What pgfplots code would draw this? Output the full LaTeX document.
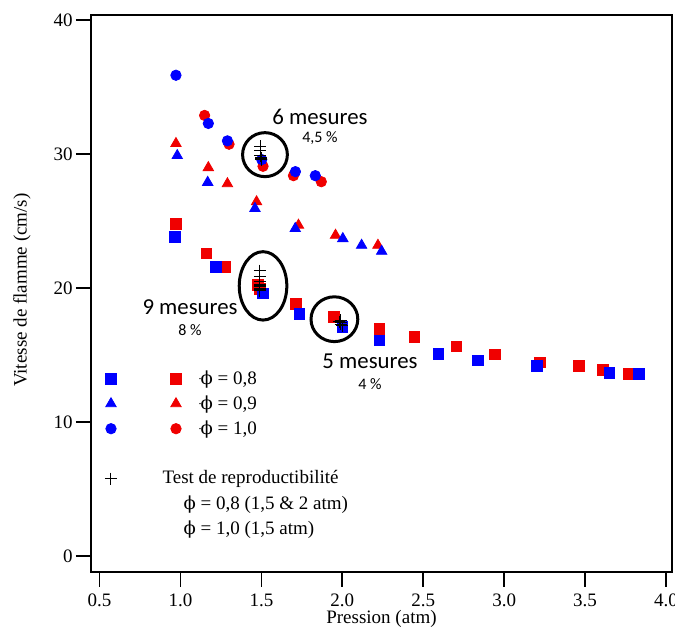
\documentclass[border=0pt]{standalone}
\usepackage{pgfplots}
\pgfplotsset{compat=1.18}
\usepackage{fontspec}
\setmainfont{Liberation Serif}
\newfontfamily\calibri{Carlito}
\newfontfamily\dejaserif{DejaVu Serif}
\newcommand{\phis}{{\dejaserif\fontsize{9}{11}\selectfont ϕ}}
\definecolor{mblue}{RGB}{0,0,255}
\definecolor{mred}{RGB}{240,0,0}
\begin{document}
\begin{tikzpicture}
\begin{axis}[
  scale only axis, width=290.5pt, height=278.5pt,
  xmin=0.447, xmax=4.037, ymin=-1.2, ymax=40.4,
  axis line style={line width=0.9pt},
  xtick={0.5,1.0,1.5,2.0,2.5,3.0,3.5,4.0}, ytick={0,10,20,30,40},
  xtick pos=bottom, ytick pos=left,
  tick align=outside, major tick length=7.5pt,
  tick style={line width=0.9pt, black},
  minor tick num=0,
  font=\fontsize{9.5}{11.4}\selectfont,
  /pgf/number format/assume math mode=true,
  xticklabel style={/pgf/number format/.cd, fixed, fixed zerofill, precision=1},
  yticklabel style={inner sep=1.5pt},
  xlabel={Pression (atm)},
  ylabel={Vitesse de flamme (cm/s)},
  xlabel style={at={(axis description cs:0.5,-0.084)}, anchor=center},
  ylabel style={at={(axis description cs:-0.119,0.506)}, anchor=center, rotate=0},
  legend cell align=left,
  legend style={at={(axis cs:0.531,14.2)}, anchor=north west, draw=none, fill=none,
    inner sep=0pt, row sep=0pt, nodes={inner sep=0pt, minimum height=12.5pt},
    font=\fontsize{9.5}{11.4}\selectfont},
  clip=false,
]
% red squares (phi=0.8)
\addplot[forget plot, only marks, mark=square*, mark size=2.7pt, mred, mark options={draw=mred, fill=mred}] coordinates {
 (0.972,24.8) (1.16,22.6) (1.277,21.6) (1.48,20.25) (1.49,19.95) (1.715,18.8) (1.946,17.85)
 (2.229,16.95) (2.445,16.35) (2.705,15.65) (2.945,15.05) (3.221,14.45) (3.463,14.2) (3.611,13.9) (3.773,13.6)};
% red triangles (phi=0.9)
\addplot[forget plot, only marks, mark=triangle*, mark size=3pt, mred, mark options={draw=mred, fill=mred}] coordinates {
 (0.972,30.8) (1.172,29.0) (1.29,27.8) (1.47,26.45) (1.729,24.7) (1.958,23.95) (2.22,23.2)};
% red circles (phi=1.0)
\addplot[forget plot, only marks, mark=*, mark size=2.6pt, mred, mark options={draw=mred, fill=mred}] coordinates {
 (1.149,32.9) (1.30,30.75) (1.51,29.1) (1.698,28.4) (1.87,27.95)};
% blue squares
\addplot[forget plot, only marks, mark=square*, mark size=2.7pt, mblue, mark options={draw=mblue, fill=mblue}] coordinates {
 (0.963,23.8) (1.22,21.6) (1.51,19.6) (1.735,18.1) (2.0,17.1) (2.229,16.1) (2.594,15.1)
 (2.836,14.6) (3.20,14.2) (3.65,13.65) (3.83,13.6)};
% blue triangles
\addplot[forget plot, only marks, mark=triangle*, mark size=3pt, mblue, mark options={draw=mblue, fill=mblue}] coordinates {
 (0.98,29.9) (1.168,27.9) (1.46,25.95) (1.709,24.45) (2.003,23.7) (2.119,23.2) (2.243,22.75)};
% blue circles
\addplot[forget plot, only marks, mark=*, mark size=2.6pt, mblue, mark options={draw=mblue, fill=mblue}] coordinates {
 (0.972,35.9) (1.172,32.3) (1.29,31.0) (1.502,29.6) (1.71,28.7) (1.833,28.4)};
% reproducibility tests
\addplot[forget plot, only marks, mark=+, mark size=3pt, black, mark options={line width=0.5pt}] coordinates {
 (1.494,30.6) (1.494,30.25) (1.494,29.9) (1.50,29.75) (1.50,29.6) (1.50,29.7)
 (1.49,21.3) (1.49,20.85) (1.49,20.5) (1.49,20.2) (1.49,20.0) (1.49,19.9) (1.49,20.3) (1.49,20.1) (1.49,19.8)
 (1.99,17.6) (1.99,17.45) (1.99,17.3) (2.0,17.2) (1.98,17.5)};
% ellipses
\draw[line width=1.5pt] (axis cs:1.522,29.97) ellipse [x radius=11.2pt, y radius=11pt];
\draw[line width=1.5pt] (axis cs:1.510,20.17) ellipse [x radius=11.9pt, y radius=17.1pt];
\draw[line width=1.5pt] (axis cs:1.951,17.68) ellipse [x radius=11.7pt, y radius=11.2pt];
% annotations
\node[font=\calibri\fontsize{11.4}{13}\selectfont] at (axis cs:1.862,32.78) {6 mesures};
\node[font=\calibri\fontsize{8}{9}\selectfont] at (axis cs:1.862,31.21) {4,5 \%};
\node[font=\calibri\fontsize{11.4}{13}\selectfont] at (axis cs:1.059,18.61) {9 mesures};
\node[font=\calibri\fontsize{8}{9}\selectfont] at (axis cs:1.059,16.87) {8 \%};
\node[font=\calibri\fontsize{11.4}{13}\selectfont] at (axis cs:2.171,14.56) {5 mesures};
\node[font=\calibri\fontsize{8}{9}\selectfont] at (axis cs:2.171,12.84) {4 \%};
% legend
\addlegendimage{legend image code/.code={%
  \draw[mblue,fill=mblue] plot[only marks, mark=square*, mark size=2.7pt] coordinates {(0pt,0pt)};
  \draw[mred,fill=mred] plot[only marks, mark=square*, mark size=2.7pt] coordinates {(32.5pt,0pt)};
  \path (44.5pt,0pt) circle (0.1pt);}}
\addlegendentry{\phis{} = 0,8}
\addlegendimage{legend image code/.code={%
  \draw[mblue,fill=mblue] plot[only marks, mark=triangle*, mark size=3pt] coordinates {(0pt,0pt)};
  \draw[mred,fill=mred] plot[only marks, mark=triangle*, mark size=3pt] coordinates {(32.5pt,0pt)};
  \path (44.5pt,0pt) circle (0.1pt);}}
\addlegendentry{\phis{} = 0,9}
\addlegendimage{legend image code/.code={%
  \draw[mblue,fill=mblue] plot[only marks, mark=*, mark size=2.6pt] coordinates {(0pt,0pt)};
  \draw[mred,fill=mred] plot[only marks, mark=*, mark size=2.6pt] coordinates {(32.5pt,0pt)};
  \path (44.5pt,0pt) circle (0.1pt);}}
\addlegendentry{\phis{} = 1,0}
\addlegendimage{legend image code/.code={}}
\addlegendentry{\strut}
\addlegendimage{legend image code/.code={%
  \draw[black, line width=0.5pt] plot[only marks, mark=+, mark size=3pt] coordinates {(0pt,0pt)};
  \path (44.5pt,0pt) circle (0.1pt);}}
\addlegendentry{\hspace{-19pt}Test de reproductibilité}
\addlegendimage{legend image code/.code={}}
\addlegendentry{\hspace{-8.5pt}\phis{} = 0,8 (1,5 \& 2 atm)}
\addlegendimage{legend image code/.code={}}
\addlegendentry{\hspace{-8.5pt}\phis{} = 1,0 (1,5 atm)}
\coordinate (ll) at (rel axis cs:0,0);
\coordinate (ur) at (rel axis cs:1,1);
\end{axis}
\pgfresetboundingbox
\path ([shift={(-45.5pt,-29.5pt)}]ll) rectangle ([shift={(1.5pt,7.5pt)}]ur);
\end{tikzpicture}
\end{document}
